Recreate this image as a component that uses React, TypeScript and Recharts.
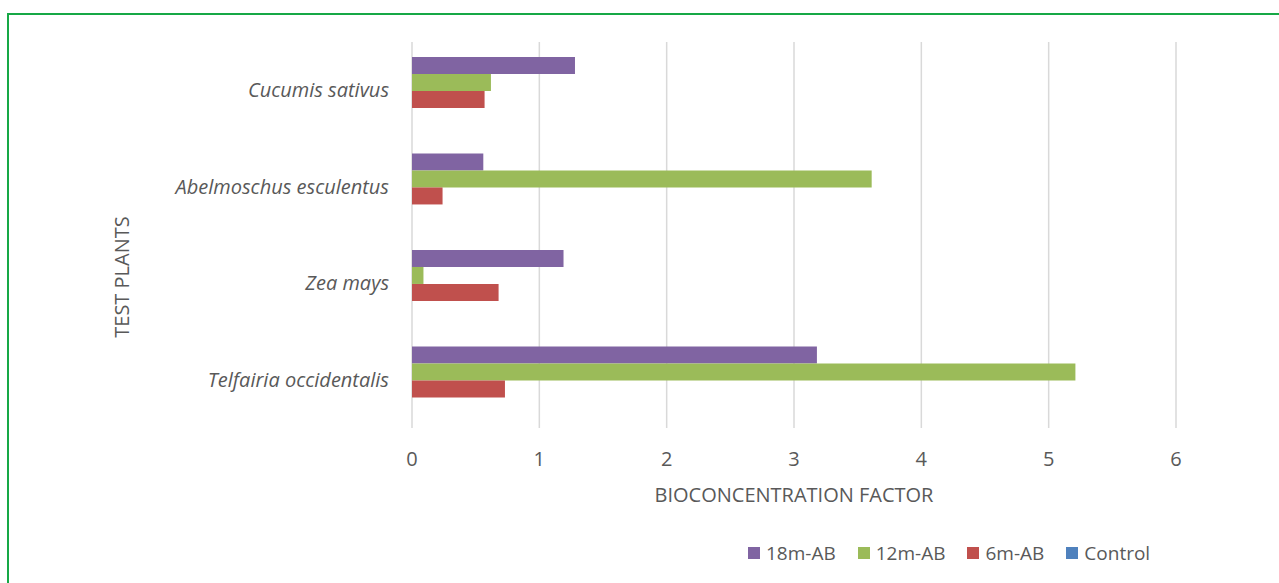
import React from 'react';
import { BarChart, Bar, XAxis, YAxis, CartesianGrid, Label } from 'recharts';

const categories = ['Cucumis sativus', 'Abelmoschus esculentus', 'Zea mays', 'Telfairia occidentalis'];
const series18m = [1.28, 0.56, 1.19, 3.18];
const series12m = [0.62, 3.61, 0.09, 5.21];
const series6m = [0.57, 0.24, 0.68, 0.73];
const seriesControl = [0, 0, 0, 0];
const xTicks = [0, 1, 2, 3, 4, 5, 6];

const seriesDefs = [
  { key: 'm18', name: '18m-AB', color: '#8064A2', values: series18m },
  { key: 'm12', name: '12m-AB', color: '#9BBB59', values: series12m },
  { key: 'm6', name: '6m-AB', color: '#C0504D', values: series6m },
  { key: 'ctrl', name: 'Control', color: '#4F81BD', values: seriesControl },
];

const data = categories.map((c, i) => {
  const row: any = { name: c };
  seriesDefs.forEach((s) => (row[s.key] = s.values[i]));
  return row;
});

const FONT = '"Open Sans", "Liberation Sans", sans-serif';
const TXT = '#595959';
const FS = 20;

const XTick = (p: any) => (
  <text x={p.x} y={p.y + 38} textAnchor="middle" fontSize={FS} fill={TXT} fontFamily={FONT}>
    {p.payload.value}
  </text>
);

const YTick = (p: any) => (
  <text x={p.x - 23} y={p.y} dy="0.36em" textAnchor="end" fontSize={FS} fontStyle="italic" fill={TXT} fontFamily={FONT}>
    {p.payload.value}
  </text>
);

export default function App() {
  return (
    <div style={{ position: 'absolute', left: 0, top: 0, width: 1279, height: 583, overflow: 'hidden', background: '#fff', fontFamily: FONT }}>
      <div style={{ position: 'absolute', left: 7, top: 13, width: 1400, height: 700, borderLeft: '2px solid #17A846', borderTop: '2px solid #17A846' }} />
      <div style={{ position: 'absolute', left: 0, top: 0 }}>
        <BarChart
          width={1279}
          height={583}
          data={data}
          layout="vertical"
          margin={{ top: 42, right: 103, bottom: 0, left: 0 }}
          barCategoryGap="15.5%"
          barGap={0}
        >
          <CartesianGrid horizontal={false} vertical={true} stroke="#D9D9D9" strokeWidth={1.5} />
          <XAxis
            type="number"
            domain={[0, 6]}
            ticks={xTicks}
            interval={0}
            tickLine={false}
            axisLine={false}
            tickSize={0}
            tickMargin={0}
            height={155}
            tick={<XTick />}
          >
            <Label
              content={(props: any) => {
                const vb = props.viewBox;
                return (
                  <text x={vb.x + vb.width / 2} y={vb.y + 74} textAnchor="middle" fontSize={FS} fill={TXT} fontFamily={FONT}>
                    BIOCONCENTRATION FACTOR
                  </text>
                );
              }}
            />
          </XAxis>
          <YAxis
            type="category"
            dataKey="name"
            width={412}
            tickLine={false}
            axisLine={false}
            tickSize={0}
            tickMargin={0}
            tick={<YTick />}
            interval={0}
          >
            <Label
              content={(props: any) => {
                const vb = props.viewBox;
                const cx = 122;
                const cy = vb.y + vb.height / 2 + 42;
                return (
                  <text x={cx} y={cy} dy="0.36em" textAnchor="middle" fontSize={FS} fill={TXT} fontFamily={FONT} transform={`rotate(-90, ${cx}, ${cy})`}>
                    TEST PLANTS
                  </text>
                );
              }}
            />
          </YAxis>
          {seriesDefs.map((s) => (
            <Bar key={s.key} dataKey={s.key} name={s.name} fill={s.color} isAnimationActive={false} />
          ))}
        </BarChart>
      </div>
      <div style={{ position: 'absolute', left: 748, top: 541, display: 'flex', alignItems: 'center', height: 24 }}>
        {seriesDefs.map((s) => (
          <div key={s.key} style={{ display: 'flex', alignItems: 'center', marginRight: 22 }}>
            <div style={{ width: 12, height: 12, background: s.color, marginRight: 6 }} />
            <span style={{ fontSize: 19, color: TXT, fontFamily: FONT, lineHeight: '24px' }}>{s.name}</span>
          </div>
        ))}
      </div>
    </div>
  );
}
